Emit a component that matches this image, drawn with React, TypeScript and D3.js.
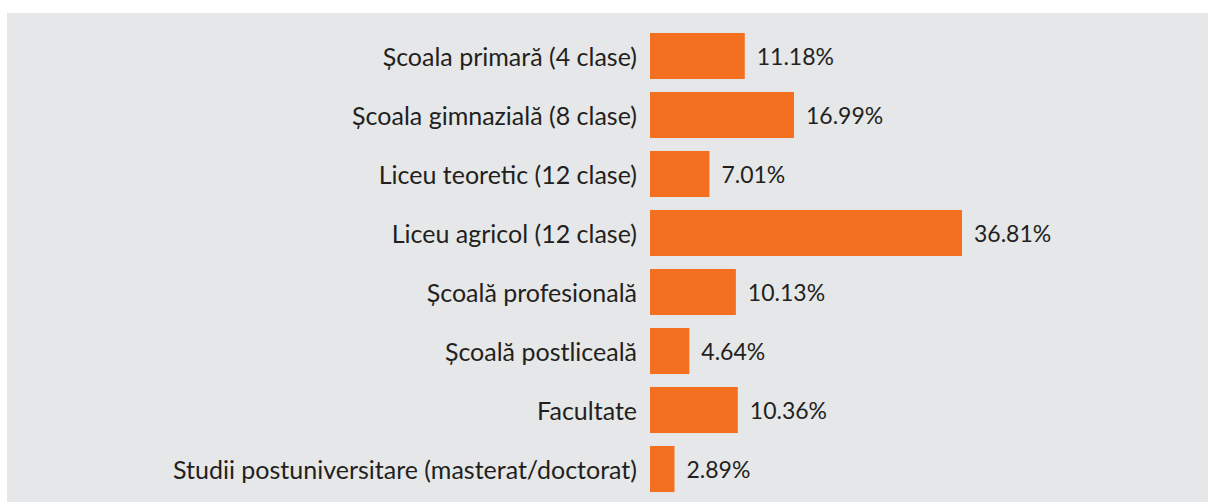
import React from "react";
import * as d3 from "d3";

const categories = [
  "Școala primară (4 clase)",
  "Școala gimnazială (8 clase)",
  "Liceu teoretic (12 clase)",
  "Liceu agricol (12 clase)",
  "Școală profesională",
  "Școală postliceală",
  "Facultate",
  "Studii postuniversitare (masterat/doctorat)",
];
const values = [11.18, 16.99, 7.01, 36.81, 10.13, 4.64, 10.36, 2.89];
const valueLabels = ["11.18%", "16.99%", "7.01%", "36.81%", "10.13%", "4.64%", "10.36%", "2.89%"];

const W = 1208;
const H = 502;
const font = "Lato, 'DejaVu Sans', sans-serif";

const App = () => {
  const y = d3
    .scaleBand<string>()
    .domain(categories)
    .range([26.5, 498.5])
    .paddingInner(0.22)
    .paddingOuter(0.11);

  const x = d3.scaleLinear().domain([0, d3.max(values) as number]).range([650, 962]);

  return (
    <div style={{ position: "absolute", left: 0, top: 0 }}>
      <svg width={W} height={H} style={{ display: "block" }}>
        <rect x={7} y={13} width={W - 7} height={H - 13} fill="#e6e7e8" />
        {categories.map((c, i) => {
          const yy = y(c) as number;
          const mid = yy + y.bandwidth() / 2;
          return (
            <g key={c}>
              <text
                x={637}
                y={mid}
                textAnchor="end"
                dominantBaseline="central"
                fontFamily={font}
                fontSize={25}
                fill="#231f20"
              >
                {c}
              </text>
              <rect x={x(0)} y={yy} width={x(values[i]) - x(0)} height={y.bandwidth()} fill="#f37021" />
              <text
                x={x(values[i]) + 12}
                y={mid}
                dominantBaseline="central"
                fontFamily={font}
                fontSize={23}
                fill="#231f20"
              >
                {valueLabels[i]}
              </text>
            </g>
          );
        })}
      </svg>
    </div>
  );
};

export default App;
